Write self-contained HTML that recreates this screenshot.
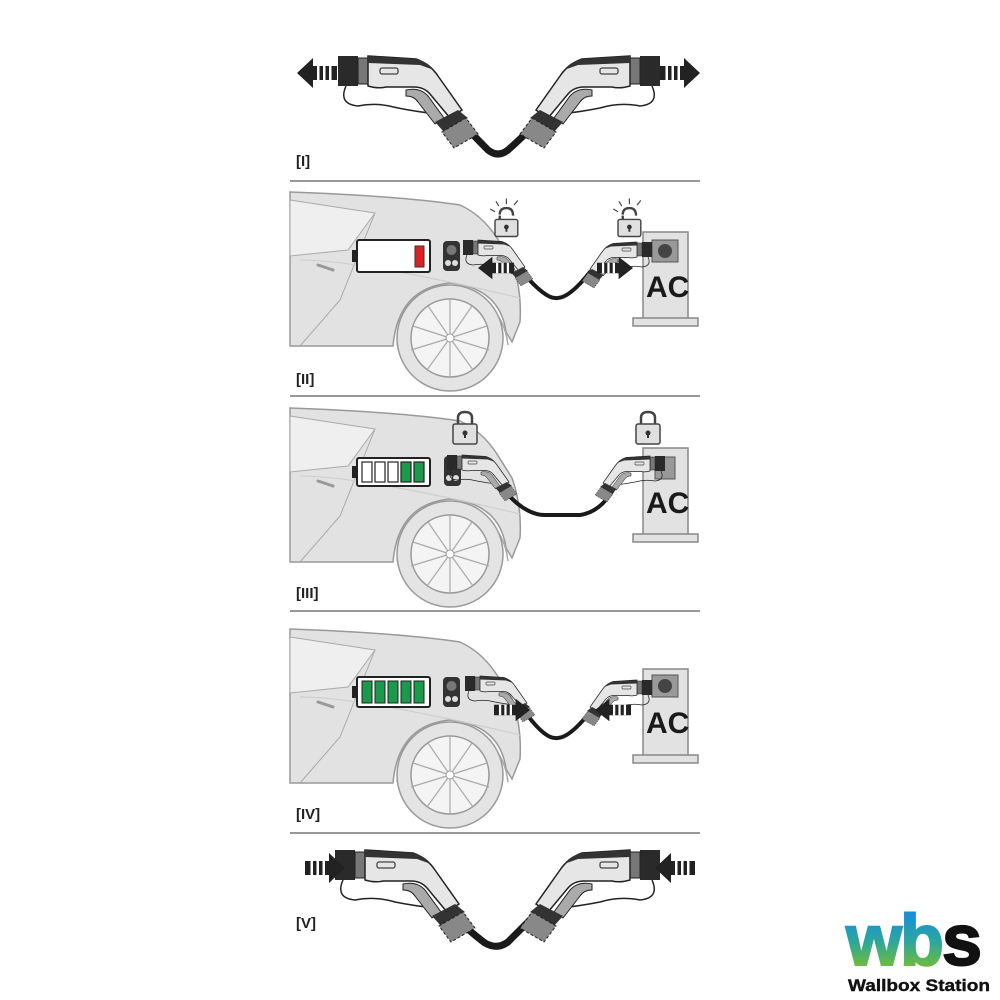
<!DOCTYPE html>
<html><head><meta charset="utf-8"><style>
html,body{margin:0;padding:0;background:#fff;}
svg{display:block;}
.lbl{font-family:"Liberation Sans",sans-serif;font-weight:bold;font-size:15px;fill:#222;}
.ac{font-family:"Liberation Sans",sans-serif;font-weight:bold;font-size:30px;fill:#1a1a1a;}
</style></head><body>
<svg width="1000" height="1000" viewBox="0 0 1000 1000" xmlns="http://www.w3.org/2000/svg">
<defs>
<linearGradient id="lg" gradientUnits="userSpaceOnUse" x1="0" y1="915" x2="0" y2="966">
<stop offset="0" stop-color="#1a8fd6"/><stop offset="0.5" stop-color="#2aa6a0"/><stop offset="1" stop-color="#6dbb3f"/>
</linearGradient>
<g id="conn">
<path d="M8,30 Q0,48 20,50 Q40,46 60,52 Q80,56 100,58" fill="none" stroke="#222" stroke-width="1.5"/>
<rect x="0" y="0" width="20" height="30" fill="#2a2a2a"/>
<rect x="20" y="2" width="10" height="26" fill="#777" stroke="#222"/>
<path d="M30,0 L78,3 Q92,8 100,20 L124,54 L112,62 L92,38 Q86,31 76,31 L48,31 Q40,33 30,30 Z" fill="#e6e6e6" stroke="#222" stroke-width="1.5"/>
<path d="M30,0 L78,3 Q90,6 96,14 L82,9 L30,7 Z" fill="#333"/>
<rect x="42" y="12" width="18" height="6" rx="2" fill="none" stroke="#444" stroke-width="1.3"/>
<path d="M68,34 Q82,31 90,40 L106,62 L97,68 L80,46 Q76,40 68,40 Z" fill="#aaa" stroke="#222"/>
<path d="M97,66 L120,54 L130,62 L106,76 Z" fill="#333"/>
<path d="M104,76 L128,62 L140,78 L116,92 Z" fill="#888" stroke="#222" stroke-dasharray="3,2"/>
</g>
<g id="car">
<path d="M290,192 Q400,196 460,205 Q482,215 497,238 L512,262 Q522,290 520,322 L512,342 L506,332 Q500,288 450,283 Q398,288 393,346 L290,346 Z" fill="#e2e2e2" stroke="#999" stroke-width="1.5"/>
<path d="M290,200 L375,213 L348,250 L290,256 Z" fill="#efefef" stroke="#aaa"/>
<path d="M375,213 L340,300 L300,346" fill="none" stroke="#aaa"/>
<path d="M300,260 Q360,260 520,298" fill="none" stroke="#ccc"/>
<path d="M318,265 L333,270" stroke="#999" stroke-width="3" stroke-linecap="round"/>
<path d="M397,345 Q400,296 450,292 Q502,296 508,345" fill="none" stroke="#aaa" stroke-width="1.5"/>
<circle cx="450" cy="338" r="53" fill="#e4e4e4" stroke="#999" stroke-width="1.5"/>
<circle cx="450" cy="338" r="39" fill="#f4f4f4" stroke="#999" stroke-width="1.5"/>
<g stroke="#aaa" stroke-width="1.2">
<line x1="450" y1="338" x2="450" y2="299"/><line x1="450" y1="338" x2="487" y2="326"/><line x1="450" y1="338" x2="473" y2="370"/><line x1="450" y1="338" x2="427" y2="370"/><line x1="450" y1="338" x2="413" y2="326"/>
<line x1="450" y1="338" x2="472" y2="306"/><line x1="450" y1="338" x2="489" y2="350"/><line x1="450" y1="338" x2="450" y2="377"/><line x1="450" y1="338" x2="411" y2="350"/><line x1="450" y1="338" x2="428" y2="306"/>
</g>
<circle cx="450" cy="338" r="4" fill="#fff" stroke="#999"/>
</g>
<g id="station">
<rect x="643" y="232" width="45" height="87" fill="#e2e2e2" stroke="#888" stroke-width="1.5"/>
<rect x="633" y="318" width="65" height="8" fill="#e2e2e2" stroke="#888" stroke-width="1.5"/>
</g>
<g id="socket">
<rect x="0" y="0" width="17" height="30" rx="4" fill="#333"/>
<circle cx="8.5" cy="9" r="5" fill="#777"/><circle cx="5" cy="22" r="3" fill="#ddd"/><circle cx="12" cy="22" r="3" fill="#ddd"/>
</g>
<g id="lockc">
<path d="M5,12 V6 Q5,0 12,0 Q19,0 19,6 V12" fill="none" stroke="#444" stroke-width="2.5"/>
<rect x="0" y="12" width="24" height="20" rx="2" fill="#e0e0e0" stroke="#444" stroke-width="1.5"/>
<circle cx="12" cy="21" r="2.5" fill="#333"/><rect x="11" y="21" width="2" height="5" fill="#333"/>
</g>
<g id="locko">
<path d="M5,12 V8 M19,8 Q19,0 12,0 Q5,0 5,7" fill="none" stroke="#444" stroke-width="2.5"/>
<rect x="0" y="12" width="24" height="18" rx="2" fill="#e0e0e0" stroke="#444" stroke-width="1.5"/>
<circle cx="12" cy="20" r="2.5" fill="#333"/><rect x="11" y="20" width="2" height="5" fill="#333"/>
<g stroke="#444" stroke-width="1.2"><line x1="0" y1="4" x2="-5" y2="1"/><line x1="4" y1="-2" x2="1" y2="-7"/><line x1="12" y1="-4" x2="12" y2="-10"/><line x1="20" y1="-3" x2="24" y2="-8"/></g>
</g>
<g id="arrL">
<path d="M0,0 L16,-15 L16,-7 L40,-7 L40,7 L16,7 L16,15 Z" fill="#222"/>
<g fill="#fff"><rect x="20" y="-7" width="2.5" height="14"/><rect x="26" y="-7" width="2.5" height="14"/><rect x="32" y="-7" width="2.5" height="14"/></g>
</g>
</defs>

<g stroke="#777" stroke-width="1.5">
<line x1="290" y1="181" x2="700" y2="181"/><line x1="290" y1="396" x2="700" y2="396"/>
<line x1="290" y1="611" x2="700" y2="611"/><line x1="290" y1="833" x2="700" y2="833"/>
</g>

<!-- Panel I -->
<path d="M455,116 Q478,140 488,150 Q498,158 508,150 Q525,135 545,114" fill="none" stroke="#1a1a1a" stroke-width="7" stroke-linecap="round"/>
<use href="#conn" transform="translate(338,56)"/>
<use href="#conn" transform="translate(660,56) scale(-1,1)"/>
<use href="#arrL" transform="translate(297,73)"/>
<use href="#arrL" transform="translate(700,73) scale(-1,1)"/>
<text class="lbl" x="296" y="166">[I]</text>

<!-- Panel II -->
<use href="#car"/>
<use href="#station"/>
<rect x="652" y="240" width="26" height="22" fill="#999" stroke="#555"/><circle cx="665" cy="251" r="7" fill="#444"/>
<text class="ac" x="646" y="297">AC</text>
<rect x="357" y="240" width="73" height="32" rx="2" fill="#fff" stroke="#222" stroke-width="2"/>
<rect x="352" y="250" width="5" height="12" fill="#222"/>
<rect x="415" y="246" width="9" height="21" fill="#e02020" stroke="#333"/>
<use href="#socket" transform="translate(443,241)"/>
<path d="M523,273 Q545,298 555,298 Q568,300 590,272" fill="none" stroke="#1a1a1a" stroke-width="4" stroke-linecap="round"/>
<use href="#conn" transform="translate(463,240) scale(0.5)"/>
<use href="#conn" transform="translate(652,242) scale(-0.5,0.5)"/>
<use href="#arrL" transform="translate(478,268) scale(0.9,0.75)"/>
<use href="#arrL" transform="translate(633,268) scale(-0.9,0.75)"/>
<use href="#locko" transform="translate(495,208) scale(0.95)"/>
<use href="#locko" transform="translate(618,208) scale(0.95)"/>
<text class="lbl" x="296" y="384">[II]</text>

<!-- Panel III -->
<use href="#car" transform="translate(0,216)"/>
<use href="#station" transform="translate(0,216)"/>
<rect x="655" y="457" width="20" height="22" fill="#999" stroke="#555"/>
<text class="ac" x="646" y="513">AC</text>
<rect x="357" y="458" width="73" height="28" rx="2" fill="#fff" stroke="#222" stroke-width="2"/>
<rect x="352" y="466" width="5" height="12" fill="#222"/>
<g stroke="#222" stroke-width="1.2">
<rect x="362" y="462" width="10" height="20" fill="#fff"/><rect x="375" y="462" width="10" height="20" fill="#fff"/><rect x="388" y="462" width="10" height="20" fill="#fff"/>
<rect x="401" y="462" width="10" height="20" fill="#1a9a4a"/><rect x="414" y="462" width="10" height="20" fill="#1a9a4a"/>
</g>
<path d="M504,490 Q525,515 545,515 L580,515 Q600,512 613,490" fill="none" stroke="#1a1a1a" stroke-width="4" stroke-linecap="round"/>
<use href="#socket" transform="translate(444,456)"/>
<use href="#conn" transform="translate(447,455) scale(0.5)"/>
<use href="#conn" transform="translate(665,456) scale(-0.5,0.5)"/>
<use href="#lockc" transform="translate(453,412)"/>
<use href="#lockc" transform="translate(636,412)"/>
<text class="lbl" x="296" y="598">[III]</text>

<!-- Panel IV -->
<use href="#car" transform="translate(0,437)"/>
<use href="#station" transform="translate(0,437)"/>
<rect x="652" y="675" width="26" height="22" fill="#999" stroke="#555"/><circle cx="665" cy="686" r="7" fill="#444"/>
<text class="ac" x="646" y="733">AC</text>
<rect x="357" y="677" width="73" height="30" rx="2" fill="#fff" stroke="#222" stroke-width="2"/>
<rect x="352" y="686" width="5" height="12" fill="#222"/>
<g fill="#1a9a4a" stroke="#222" stroke-width="1">
<rect x="362" y="681" width="10" height="22"/><rect x="375" y="681" width="10" height="22"/><rect x="388" y="681" width="10" height="22"/><rect x="401" y="681" width="10" height="22"/><rect x="414" y="681" width="10" height="22"/>
</g>
<use href="#socket" transform="translate(443,677)"/>
<path d="M528,716 Q545,738 555,738 Q568,740 590,712" fill="none" stroke="#1a1a1a" stroke-width="4" stroke-linecap="round"/>
<use href="#conn" transform="translate(465,676) scale(0.5)"/>
<use href="#conn" transform="translate(652,680) scale(-0.5,0.5)"/>
<use href="#arrL" transform="translate(530,710) scale(-0.9,0.75)"/>
<use href="#arrL" transform="translate(595,710) scale(0.9,0.75)"/>
<text class="lbl" x="296" y="819">[IV]</text>

<!-- Panel V -->
<path d="M450,912 Q470,932 485,943 Q497,950 508,942 Q525,925 545,905" fill="none" stroke="#1a1a1a" stroke-width="7" stroke-linecap="round"/>
<use href="#conn" transform="translate(335,850)"/>
<use href="#conn" transform="translate(660,850) scale(-1,1)"/>
<use href="#arrL" transform="translate(345,868) scale(-1,1)"/>
<use href="#arrL" transform="translate(655,868)"/>
<text class="lbl" x="296" y="928">[V]</text>

<!-- Logo -->
<text x="846" y="965" font-family="Liberation Sans,sans-serif" font-weight="bold" font-size="72" letter-spacing="-2" fill="url(#lg)" stroke="url(#lg)" stroke-width="2">wb</text>
<text x="942" y="965" font-family="Liberation Sans,sans-serif" font-weight="bold" font-size="72" fill="#111" stroke="#111" stroke-width="2">s</text>
<text x="848" y="991" font-family="Liberation Sans,sans-serif" font-weight="bold" font-size="17" fill="#111" stroke="#111" stroke-width="0.4" textLength="142" lengthAdjust="spacingAndGlyphs">Wallbox Station</text>
</svg>
</body></html>
